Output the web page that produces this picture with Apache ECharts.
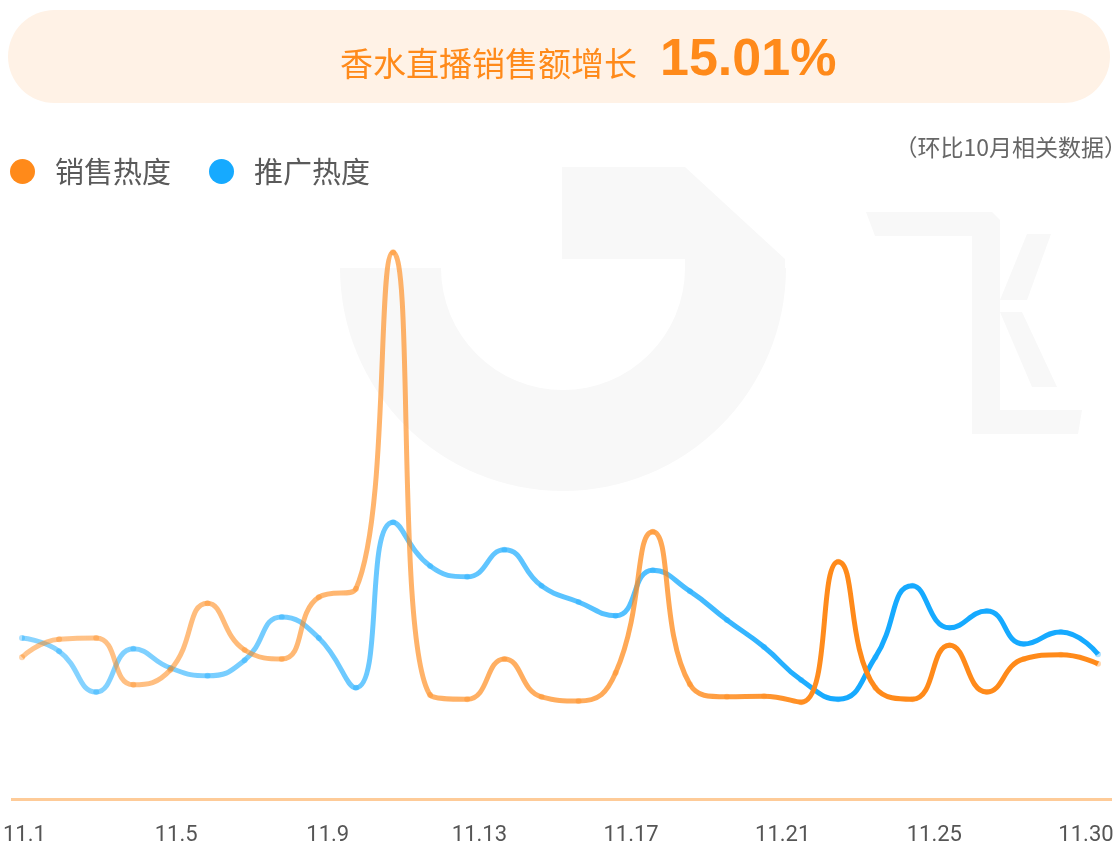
<!DOCTYPE html>
<html>
<head>
<meta charset="utf-8">
<title>香水直播销售额增长</title>
<script src="https://cdn.jsdelivr.net/npm/echarts@6/dist/echarts.min.js"></script>
<style>
  html, body { margin: 0; padding: 0; background: #fff; }
  #main { width: 1117px; height: 846px; }
</style>
</head>
<body>
<div id="main"></div>
<script>
// 日期 11.1 - 11.30
var dates = [];
for (var d = 1; d <= 30; d++) { dates.push('11.' + d); }
var tickLabels = ['11.1', '11.5', '11.9', '11.13', '11.17', '11.21', '11.25', '11.30'];

// 销售热度
var salesHeat = [23.8, 26.8, 27.0, 19.2, 21.7, 32.8, 25.0, 23.5, 33.8, 35.2,
                 91.3, 17.5, 16.8, 23.5, 17.2, 16.5, 21.2, 44.7, 19.3, 17.2,
                 17.3, 16.3, 39.7, 18.7, 16.8, 25.8, 18.0, 23.5, 24.2, 22.7];
// 推广热度
var promoHeat = [27.0, 24.8, 18.0, 25.2, 22.0, 20.7, 23.3, 30.5, 27.0, 18.7,
                 46.3, 39.0, 37.2, 41.7, 35.7, 33.0, 30.7, 38.3, 34.8, 30.0,
                 25.5, 20.0, 16.8, 23.8, 35.7, 28.7, 31.5, 26.0, 28.0, 24.3];

var ORANGE = '#ff8a1a';
var BLUE = '#16aaff';
var WM = '#f8f8f8';

function fade(r, g, b) {
  return {
    type: 'linear', x: 0, y: 0, x2: 1, y2: 0,
    colorStops: [
      { offset: 0, color: 'rgba(' + r + ',' + g + ',' + b + ',0.5)' },
      { offset: 0.6, color: 'rgba(' + r + ',' + g + ',' + b + ',0.75)' },
      { offset: 0.75, color: 'rgba(' + r + ',' + g + ',' + b + ',1)' },
      { offset: 1, color: 'rgba(' + r + ',' + g + ',' + b + ',1)' }
    ]
  };
}

var myChart = echarts.init(document.getElementById('main'));

myChart.setOption({
  animation: false,
  graphic: [
    // 顶部标题底色
    { type: 'rect', z: 0, shape: { x: 8, y: 10, width: 1102, height: 93, r: 46.5 }, style: { fill: '#fff2e6' } },
    { type: 'text', z: 1, left: 340, top: 47, style: { text: '香水直播销售额增长', fill: ORANGE, font: '33px "Noto Sans CJK SC"' } },
    { type: 'text', z: 1, left: 660, top: 35, style: { text: '15.01%', fill: ORANGE, font: 'bold 52px "Liberation Sans"' } },
    { type: 'text', z: 1, right: -10, top: 136, style: { text: '（环比10月相关数据）', fill: '#666', font: '23px "Noto Sans CJK SC"' } },
    // 水印
    { type: 'sector', z: 0, silent: true, shape: { cx: 563, cy: 268, r: 223, r0: 122, startAngle: 0, endAngle: Math.PI }, style: { fill: WM } },
    { type: 'polygon', z: 0, silent: true, shape: { points: [[562, 167], [685, 167], [785, 259], [785, 268], [685, 268], [685, 259], [562, 259]] }, style: { fill: WM } },
    { type: 'polygon', z: 0, silent: true, shape: { points: [[866, 212], [992, 212], [1000, 220], [1000, 433], [972, 433], [972, 236], [875, 236]] }, style: { fill: WM } },
    { type: 'polygon', z: 0, silent: true, shape: { points: [[972, 410], [1082, 410], [1078, 434], [972, 434]] }, style: { fill: WM } },
    { type: 'polygon', z: 0, silent: true, shape: { points: [[1027, 234], [1051, 234], [1027, 300], [1000, 300]] }, style: { fill: WM } },
    { type: 'polygon', z: 0, silent: true, shape: { points: [[1000, 312], [1022, 312], [1057, 387], [1032, 387]] }, style: { fill: WM } },
    // 横轴线
    { type: 'rect', z: 1, shape: { x: 11, y: 798, width: 1101, height: 3 }, style: { fill: '#fecb98' } }
  ],
  legend: {
    left: 5,
    top: 152,
    icon: 'circle',
    itemWidth: 25,
    itemHeight: 25,
    itemGap: 38,
    textStyle: { fontSize: 29, color: '#5a5a5a', fontFamily: 'Noto Sans CJK SC', padding: [0, 0, 0, 15] },
    data: [
      { name: '销售热度', itemStyle: { color: ORANGE } },
      { name: '推广热度', itemStyle: { color: BLUE } }
    ]
  },
  grid: [
    { left: 22, right: 19, top: 200, bottom: 46 },
    { left: 22, right: 31, top: 200, bottom: 46 }
  ],
  xAxis: [
    {
      type: 'category', gridIndex: 0, data: dates, boundaryGap: false,
      axisLine: { show: false }, axisTick: { show: false }, axisLabel: { show: false }
    },
    {
      type: 'category', gridIndex: 1, data: tickLabels, boundaryGap: false,
      axisLine: { show: false }, axisTick: { show: false },
      axisLabel: { margin: 25, fontSize: 22, color: '#555', fontFamily: 'Roboto', interval: 0 }
    }
  ],
  yAxis: [
    { type: 'value', gridIndex: 0, min: 0, max: 100, show: false },
    { type: 'value', gridIndex: 1, min: 0, max: 100, show: false }
  ],
  series: [
    {
      name: '推广热度',
      type: 'line',
      smooth: true,
      z: 3,
      data: promoHeat,
      symbol: 'circle',
      symbolSize: 6,
      itemStyle: { color: 'rgba(22,170,255,0.35)' },
      lineStyle: { width: 5, color: fade(22, 170, 255) }
    },
    {
      name: '销售热度',
      type: 'line',
      smooth: true,
      z: 4,
      data: salesHeat,
      symbol: 'circle',
      symbolSize: 6,
      itemStyle: { color: 'rgba(255,138,26,0.35)' },
      lineStyle: { width: 5, color: fade(255, 138, 26) }
    }
  ]
});
</script>
</body>
</html>
